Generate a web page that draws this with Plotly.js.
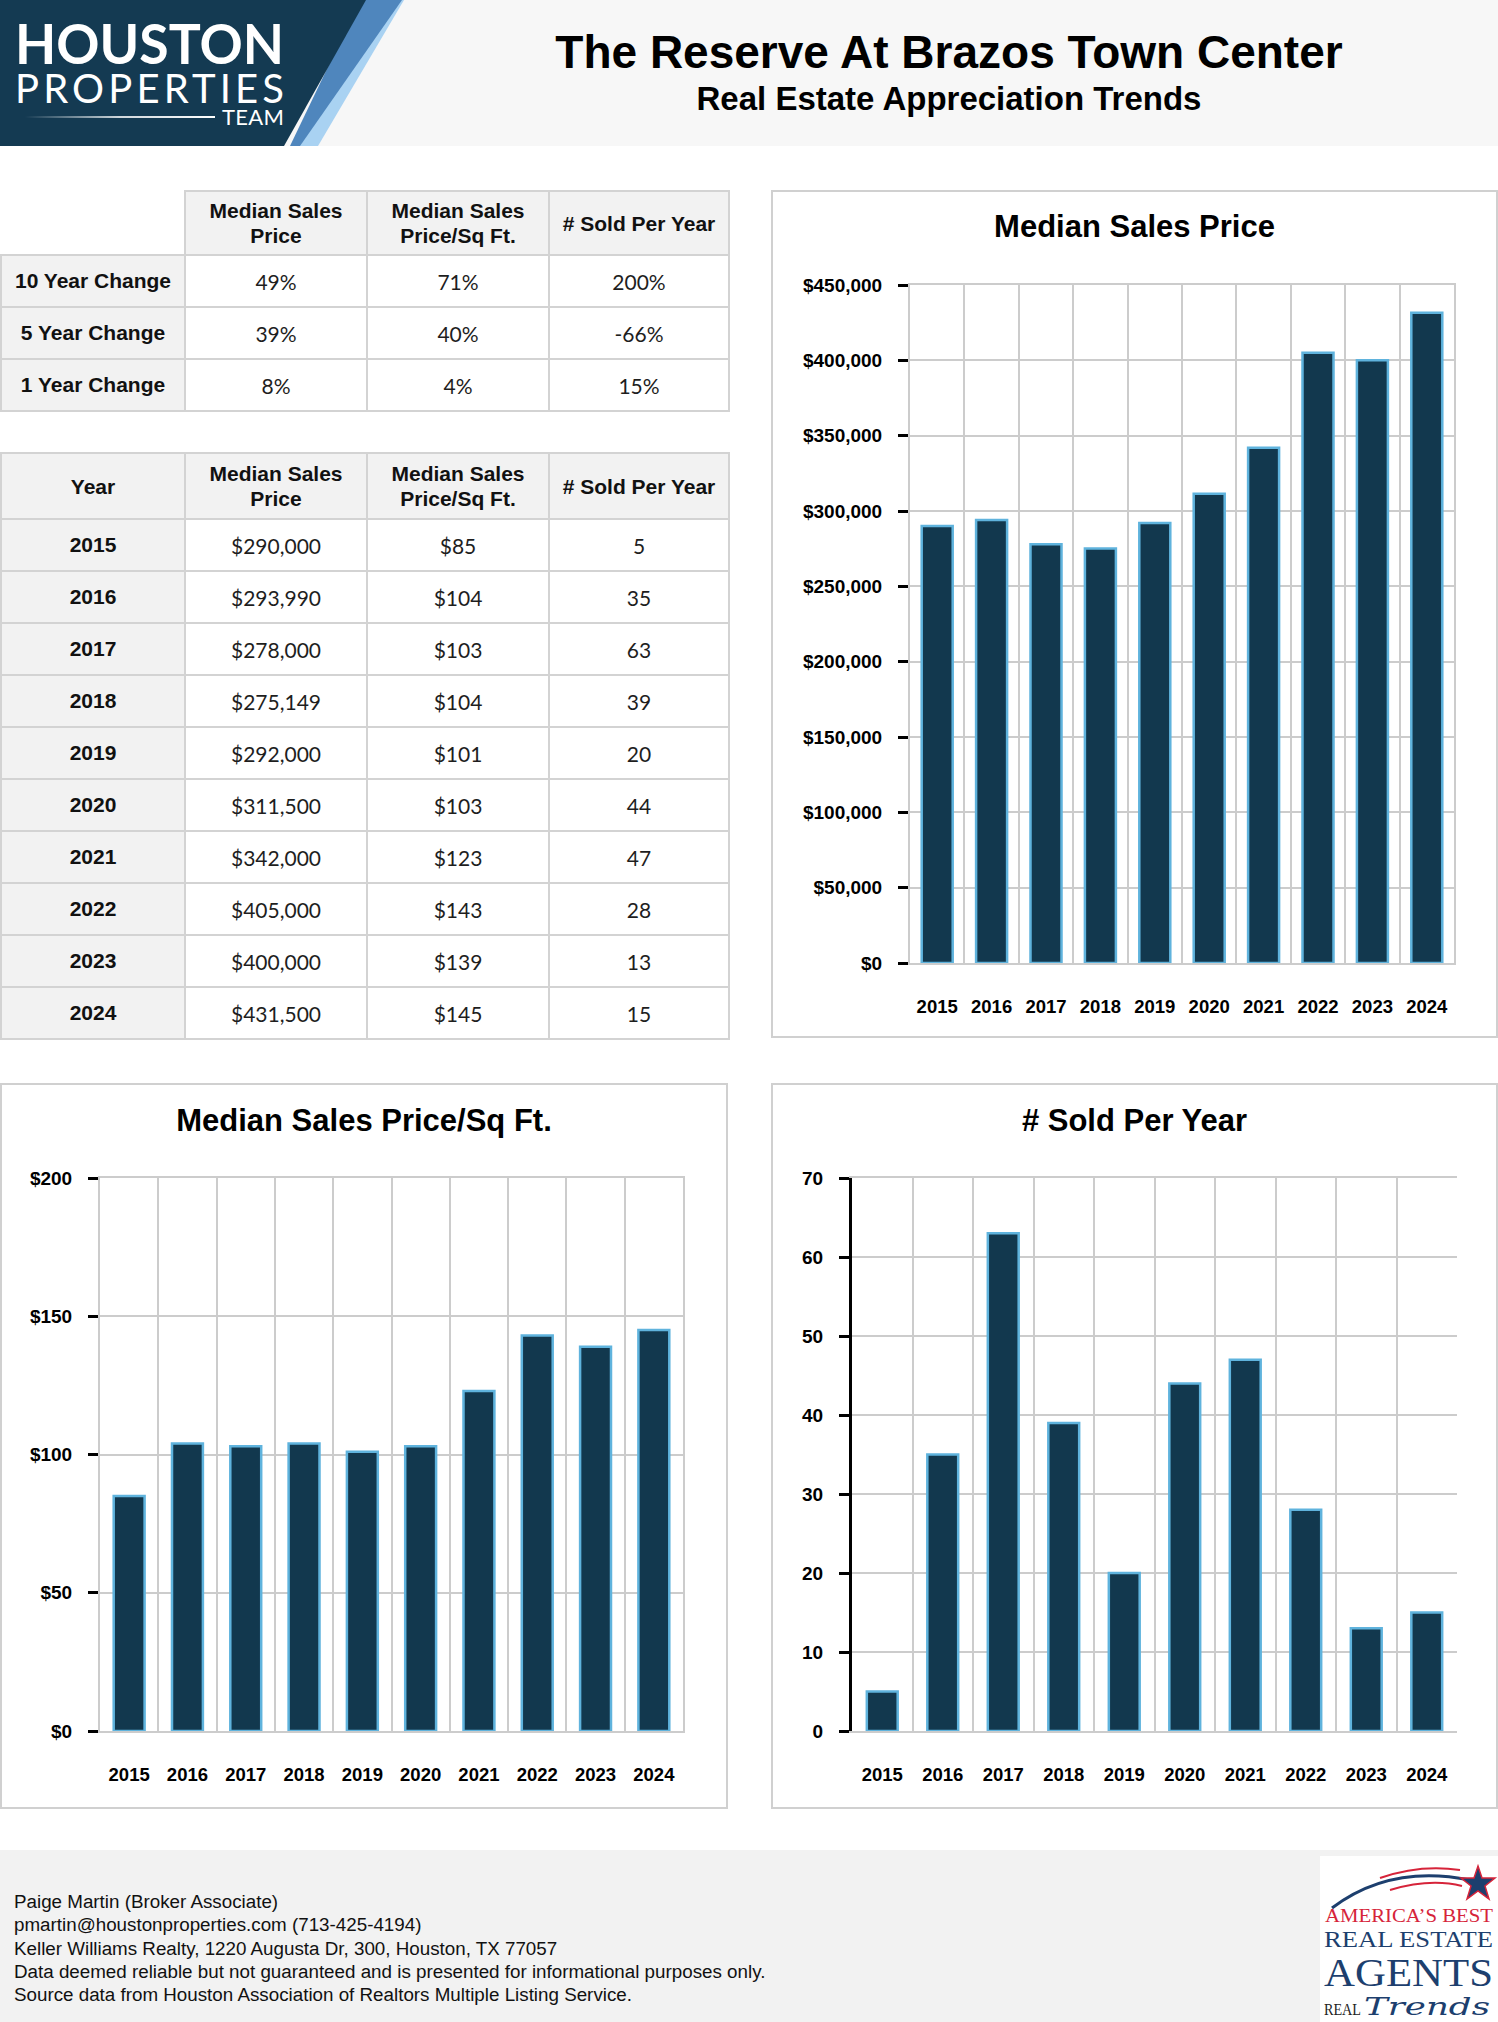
<!DOCTYPE html>
<html lang="en">
<head>
<meta charset="UTF-8">
<title>The Reserve At Brazos Town Center</title>
<script src="https://cdn.plot.ly/plotly-3.0.1.min.js"></script>
<style>
    body {
        margin: 0;
        background: #fff;
        font-family: 'Liberation Sans', Arial, sans-serif;
    }

    #page {
        position: relative;
        width: 1498px;
        height: 2022px;
        overflow: hidden;
        background: #fff;
    }

    #header {
        position: absolute;
        left: 0;
        top: 0;
        width: 1498px;
        height: 146px;
        background: #f7f7f7;
    }

    .heading {
        position: absolute;
        left: 400px;
        width: 1098px;
        text-align: center;
        font-weight: bold;
        color: #000;
        white-space: nowrap;
    }

    table.stats {
        position: absolute;
        left: 0;
        border-collapse: collapse;
        table-layout: fixed;
    }

    table.stats th,
    table.stats td {
        border: 2px solid #d3d3d3;
        text-align: center;
        padding: 0;
    }

    table.stats th {
        background: #f2f2f2;
        font: bold 21px/25px 'Liberation Sans', Arial, sans-serif;
        color: #111;
    }

    table.stats td {
        font: 21px 'Lato', sans-serif;
        color: #1e1e1e;
        background: #fff;
    }

    table.stats td.lbl {
        background: #f2f2f2;
        font: bold 21px 'Liberation Sans', Arial, sans-serif;
        color: #111;
    }

    table.stats th.blank {
        background: #fff;
        border-top: none;
        border-left: none;
    }

    .panel {
        position: absolute;
        border: 2px solid #d0d0d0;
        box-sizing: border-box;
        background: #fff;
    }

    #footer {
        position: absolute;
        left: 0;
        top: 1850px;
        width: 1498px;
        height: 172px;
        background: #f2f2f2;
    }

    #footer .lines {
        position: absolute;
        left: 14px;
        top: 40px;
        font-size: 18.8px;
        line-height: 23.3px;
        color: #111;
    }
</style>
</head>
<body>
<div id="page">
    <div id="header">
        <svg width="420" height="146" style="position:absolute;left:0;top:0">
            <defs>
                <linearGradient id="fade" x1="0" x2="1" y1="0" y2="0">
                    <stop offset="0" stop-color="#fff" stop-opacity="0"/>
                    <stop offset="0.5" stop-color="#fff" stop-opacity="0.8"/>
                    <stop offset="1" stop-color="#fff" stop-opacity="1"/>
                </linearGradient>
            </defs>
            <polygon points="368,0 404,0 318,146 296,146" fill="#a9d2f2"/>
            <polygon points="360,0 402,0 300,146 290,146" fill="#4f86bd"/>
            <polygon points="0,0 366,0 284,146 0,146" fill="#143a52"/>
            <text x="15" y="64" fill="#fff" font-family="Lato" font-weight="700" font-size="56" textLength="269" lengthAdjust="spacingAndGlyphs">HOUSTON</text>
            <text x="15" y="103" fill="#fff" font-family="Lato" font-weight="400" font-size="40" textLength="269" lengthAdjust="spacing">PROPERTIES</text>
            <rect x="25" y="116" width="190" height="2" fill="url(#fade)"/>
            <text x="222" y="125" fill="#fff" font-family="Lato" font-weight="400" font-size="22" textLength="62" lengthAdjust="spacing">TEAM</text>
        </svg>
        <div class="heading" style="top:25px;font-size:46px;line-height:54px">The Reserve At Brazos Town Center</div>
        <div class="heading" style="top:80px;font-size:33px;line-height:38px">Real Estate Appreciation Trends</div>
    </div>

    <table class="stats" id="changeTable" style="top:190px"></table>
    <table class="stats" id="yearTable" style="top:452px"></table>

    <div class="panel" style="left:771px;top:190px;width:727px;height:848px"><div id="priceChart"></div></div>
    <div class="panel" style="left:0;top:1083px;width:728px;height:726px"><div id="sqftChart"></div></div>
    <div class="panel" style="left:771px;top:1083px;width:727px;height:726px"><div id="soldChart"></div></div>

    <div id="footer">
        <div class="lines">
            Paige Martin (Broker Associate)<br>
            pmartin@houstonproperties.com (713-425-4194)<br>
            Keller Williams Realty, 1220 Augusta Dr, 300, Houston, TX 77057<br>
            Data deemed reliable but not guaranteed and is presented for informational purposes only.<br>
            Source data from Houston Association of Realtors Multiple Listing Service.
        </div>
        <svg width="178" height="166" style="position:absolute;left:1320px;top:6px;background:#fff">
            <path d="M12,52 Q70,8 150,24" fill="none" stroke="#1d3f6e" stroke-width="3"/>
            <path d="M60,22 Q100,8 140,14" fill="none" stroke="#d6243a" stroke-width="2"/>
            <path d="M70,34 Q110,22 142,30" fill="none" stroke="#d6243a" stroke-width="2"/>
            <polygon points="158,10 162,22 175,22 165,30 169,43 158,35 147,43 151,30 141,22 154,22" fill="#1d3f6e" stroke="#d6243a" stroke-width="1.5"/>
            <text x="5" y="66" fill="#d6243a" font-family="Liberation Serif" font-size="19" textLength="168" lengthAdjust="spacingAndGlyphs">AMERICA’S BEST</text>
            <text x="4" y="91" fill="#1d3f6e" font-family="Liberation Serif" font-size="23" textLength="169" lengthAdjust="spacingAndGlyphs">REAL ESTATE</text>
            <text x="4" y="130" fill="#1d3f6e" font-family="Liberation Serif" font-size="40" textLength="169" lengthAdjust="spacingAndGlyphs">AGENTS</text>
            <text x="4" y="159" fill="#222" font-family="Liberation Serif" font-size="16" textLength="37" lengthAdjust="spacingAndGlyphs">REAL</text>
            <text x="44" y="159" fill="#1d3f6e" font-family="DejaVu Serif" font-style="italic" font-size="24" textLength="126" lengthAdjust="spacingAndGlyphs">Trends</text>
        </svg>
    </div>
</div>

<script>
    const years = ['2015', '2016', '2017', '2018', '2019', '2020', '2021', '2022', '2023', '2024'];
    const medianPrice = [290000, 293990, 278000, 275149, 292000, 311500, 342000, 405000, 400000, 431500];
    const pricePerSqft = [85, 104, 103, 104, 101, 103, 123, 143, 139, 145];
    const soldPerYear = [5, 35, 63, 39, 20, 44, 47, 28, 13, 15];

    const changeLabels = ['10 Year Change', '5 Year Change', '1 Year Change'];
    const priceChange = ['49%', '39%', '8%'];
    const sqftChange = ['71%', '40%', '4%'];
    const soldChange = ['200%', '-66%', '15%'];

    const columnTitles = ['Median Sales<br>Price', 'Median Sales<br>Price/Sq Ft.', '# Sold Per Year'];
    const colWidths = [184, 182, 182, 180];

    const money = v => '$' + v.toLocaleString('en-US');

    function buildTable(id, firstHead, headH, rowH, labels, cols) {
        const t = document.getElementById(id);
        let html = '<colgroup>' + colWidths.map(w => `<col style="width:${w}px">`).join('') + '</colgroup>';
        html += `<tr style="height:${headH}px">`;
        html += firstHead === null ? '<th class="blank"></th>' : `<th>${firstHead}</th>`;
        html += columnTitles.map(c => `<th>${c}</th>`).join('') + '</tr>';
        labels.forEach((lab, i) => {
            html += `<tr style="height:${rowH}px"><td class="lbl">${lab}</td>`;
            html += cols.map(c => `<td>${c[i]}</td>`).join('') + '</tr>';
        });
        t.innerHTML = html;
    }

    buildTable('changeTable', null, 64, 52, changeLabels, [priceChange, sqftChange, soldChange]);
    buildTable('yearTable', 'Year', 66, 52, years,
        [medianPrice.map(money), pricePerSqft.map(v => '$' + v), soldPerYear]);

    const FONT = 'Liberation Sans, Arial, sans-serif';
    const BAR_FILL = '#12384e';
    const BAR_EDGE = '#5fb3dd';
    const GRID = '#cccccc';

    function barChart(divId, values, o) {
        const traces = [{
            x: years,
            y: values,
            type: 'bar',
            width: o.barWidth,
            marker: {color: BAR_FILL, line: {color: BAR_EDGE, width: 2.5}},
            hoverinfo: 'skip'
        }];

        const layout = {
            width: o.w,
            height: o.h,
            margin: o.margin,
            paper_bgcolor: '#fff',
            plot_bgcolor: '#fff',
            showlegend: false,
            bargap: 0,
            font: {family: FONT, color: '#000'},
            title: {
                text: o.title,
                font: {family: FONT, size: 31, color: '#000', weight: 'bold'},
                x: 0.5,
                xref: 'container',
                xanchor: 'center',
                y: 1 - o.titleY / o.h,
                yref: 'container',
                yanchor: 'middle'
            },
            xaxis: {
                type: 'category',
                categoryarray: years,
                range: [-0.5, years.length - 0.5],
                tickson: 'boundaries',
                showgrid: true,
                gridcolor: GRID,
                gridwidth: 2,
                ticks: '',
                showline: true,
                linecolor: GRID,
                linewidth: 2,
                mirror: true,
                ticklabelstandoff: 26,
                tickfont: {family: FONT, size: 18.5, color: '#000', weight: 'bold'},
                fixedrange: true
            },
            // tick marks sit at the bar centres, gridlines at the category edges
            xaxis2: {
                overlaying: 'x',
                anchor: 'y',
                side: 'bottom',
                range: [-0.5, years.length - 0.5],
                tickmode: 'array',
                tickvals: years.map((_, i) => i),
                ticks: 'outside',
                ticklen: 12,
                tickwidth: 3,
                tickcolor: '#000',
                showticklabels: false,
                showgrid: false,
                zeroline: false,
                showline: false
            },
            yaxis: {
                range: o.range,
                dtick: o.dtick,
                tickprefix: o.prefix,
                tickformat: ',d',
                ticks: 'outside',
                ticklen: 10,
                tickwidth: 3,
                tickcolor: '#000',
                showgrid: true,
                gridcolor: GRID,
                gridwidth: 2,
                zeroline: false,
                showline: true,
                linecolor: o.yLine,
                linewidth: o.yLine === '#000' ? 3 : 2,
                mirror: o.yLine !== '#000',
                ticklabelstandoff: 12,
                tickfont: {family: FONT, size: 19, color: '#000', weight: 'bold'},
                fixedrange: true
            }
        };

        Plotly.newPlot(divId, traces, layout, {staticPlot: true, displayModeBar: false});
    }

    barChart('priceChart', medianPrice, {
        w: 723, h: 844,
        margin: {l: 137, r: 42, t: 93, b: 73},
        title: 'Median Sales Price', titleY: 34,
        range: [0, 450000], dtick: 50000, prefix: '$',
        barWidth: 0.57, yLine: GRID
    });

    barChart('sqftChart', pricePerSqft, {
        w: 724, h: 722,
        margin: {l: 98, r: 43, t: 93, b: 76},
        title: 'Median Sales Price/Sq Ft.', titleY: 35,
        range: [0, 200], dtick: 50, prefix: '$',
        barWidth: 0.53, yLine: GRID
    });

    barChart('soldChart', soldPerYear, {
        w: 723, h: 722,
        margin: {l: 79, r: 39, t: 93, b: 76},
        title: '# Sold Per Year', titleY: 35,
        range: [0, 70], dtick: 10, prefix: '',
        barWidth: 0.51, yLine: '#000'
    });
</script>
</body>
</html>
